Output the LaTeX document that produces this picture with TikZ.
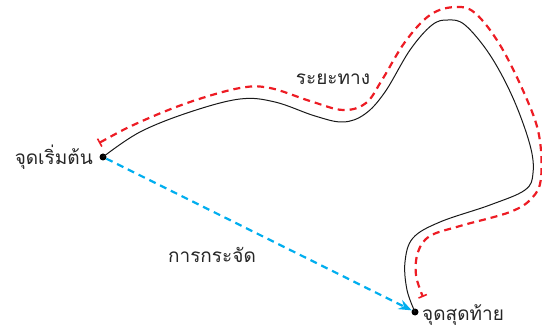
\documentclass[tikz,border=0pt]{standalone}
\usepackage{fontspec}
\newfontfamily\thaifont[Script=Thai]{Loma}
\usetikzlibrary{arrows.meta}
\definecolor{pathred}{HTML}{ED1C24}
\definecolor{dispblue}{HTML}{00AEEF}
\tikzset{
  dot/.style={circle,fill=black,inner sep=0pt,minimum size=7pt},
  lbl/.style={font=\thaifont\fontsize{19}{22}\selectfont,text=black!85,inner sep=0pt},
  route/.style={line width=1pt,black!90},
  pathlen/.style={line width=2.2pt,pathred,dash pattern=on 7pt off 5pt,
    {Bar[width=9pt,line width=1.6pt]}-{Bar[width=9pt,line width=1.6pt]}},
  displacement/.style={line width=2.2pt,dispblue,dash pattern=on 7pt off 5pt,
    -{Stealth[length=13pt,width=10pt]}},
}
\begin{document}
\begin{tikzpicture}[x=1pt,y=-1pt]
\useasboundingbox (0,0) rectangle (542,329);
\node[dot] (s) at (103,157) {};
\node[dot] (e) at (415,312) {};
% actual route travelled
\draw[route] plot[smooth,tension=0.6] coordinates {
  (103,157) (140,132) (190,112) (240,99) (275,102) (315,116) (343,122)
  (365,114) (385,92) (410,50) (432,25) (448,20) (465,25) (490,55)
  (513,98) (530,145) (533,173) (525,190) (490,205) (440,222) (413,238)
  (405,262) (407,290) (415,312)};
% length measured along the route
\draw[pathlen] plot[smooth,tension=0.6] coordinates {
  (99,143) (140,122) (190,102) (240,88) (270,88) (310,101) (343,110)
  (366,103) (382,80) (405,42) (430,15) (455,7) (475,13) (500,45)
  (525,95) (539,135) (541,178) (532,198) (510,212) (460,226) (430,236)
  (418,252) (416,275) (423,297)};
% displacement
\draw[displacement] (s) -- (e);
\node[lbl,anchor=base east] (ls) at (93,165) {จุดเริ่มต้น};
\node[lbl,anchor=base west] (le) at (422,320) {จุดสุดท้าย};
\node[lbl,anchor=base] (ld) at (333,85) {ระยะทาง};
\node[lbl,anchor=base] (lc) at (212,262) {การกระจัด};
\end{tikzpicture}
\end{document}
